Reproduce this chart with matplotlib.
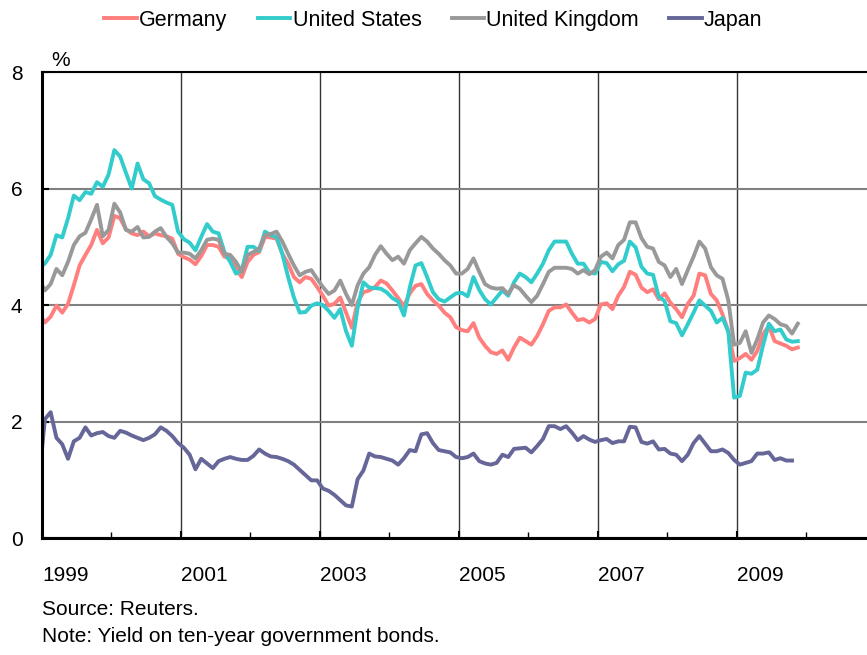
import numpy as np
import matplotlib
matplotlib.use('Agg')
import matplotlib.pyplot as plt

plt.rcParams['font.family'] = ['Liberation Sans', 'DejaVu Sans']

# monthly ten-year yields, Dec 1998 .. Nov 2009 (Japan to Oct 2009), in %
germany = [3.85,
    3.70, 3.80, 3.99, 3.87, 4.02, 4.34, 4.68, 4.86, 5.03, 5.29, 5.06, 5.16,
    5.53, 5.49, 5.30, 5.23, 5.20, 5.26, 5.18, 5.23, 5.20, 5.18, 5.14, 4.88,
    4.82, 4.78, 4.70, 4.84, 5.03, 5.03, 5.00, 4.83, 4.80, 4.62, 4.48, 4.74,
    4.86, 4.91, 5.17, 5.16, 5.14, 4.88, 4.71, 4.48, 4.39, 4.48, 4.45, 4.31,
    4.16, 3.99, 4.02, 4.13, 3.87, 3.61, 4.05, 4.22, 4.25, 4.31, 4.42, 4.37,
    4.25, 4.12, 3.98, 4.20, 4.33, 4.36, 4.19, 4.08, 3.99, 3.87, 3.79, 3.62,
    3.57, 3.55, 3.69, 3.44, 3.30, 3.19, 3.16, 3.22, 3.06, 3.27, 3.44, 3.38,
    3.32, 3.47, 3.67, 3.90, 3.96, 3.96, 4.01, 3.87, 3.74, 3.76, 3.70, 3.76,
    4.01, 4.03, 3.93, 4.16, 4.31, 4.57, 4.52, 4.30, 4.22, 4.27, 4.10, 4.20,
    4.04, 3.93, 3.79, 4.02, 4.16, 4.54, 4.51, 4.19, 4.08, 3.84, 3.55, 3.04,
    3.09, 3.16, 3.06, 3.21, 3.50, 3.64, 3.38, 3.34, 3.30, 3.24, 3.27]

united_states = [4.65,
    4.71, 4.86, 5.20, 5.16, 5.49, 5.88, 5.80, 5.94, 5.91, 6.11, 6.03, 6.24,
    6.66, 6.55, 6.27, 6.00, 6.43, 6.16, 6.09, 5.87, 5.81, 5.76, 5.72, 5.26,
    5.13, 5.07, 4.94, 5.17, 5.39, 5.26, 5.23, 4.91, 4.74, 4.54, 4.60, 5.00,
    5.00, 4.93, 5.26, 5.20, 5.17, 4.88, 4.48, 4.13, 3.87, 3.88, 3.99, 4.03,
    4.00, 3.90, 3.78, 3.93, 3.55, 3.30, 3.95, 4.39, 4.30, 4.29, 4.28, 4.22,
    4.12, 4.06, 3.82, 4.30, 4.68, 4.72, 4.48, 4.22, 4.10, 4.06, 4.13, 4.20,
    4.21, 4.15, 4.48, 4.26, 4.10, 4.01, 4.13, 4.25, 4.16, 4.39, 4.54, 4.48,
    4.39, 4.54, 4.71, 4.94, 5.09, 5.09, 5.09, 4.88, 4.71, 4.71, 4.56, 4.54,
    4.74, 4.72, 4.58, 4.70, 4.76, 5.09, 4.99, 4.66, 4.54, 4.52, 4.14, 4.07,
    3.72, 3.69, 3.48, 3.67, 3.87, 4.08, 3.99, 3.90, 3.70, 3.78, 3.54, 2.41,
    2.44, 2.84, 2.82, 2.89, 3.31, 3.68, 3.55, 3.58, 3.41, 3.37, 3.38]

united_kingdom = [4.45,
    4.25, 4.36, 4.62, 4.51, 4.74, 5.03, 5.18, 5.24, 5.47, 5.72, 5.18, 5.29,
    5.74, 5.59, 5.29, 5.26, 5.34, 5.16, 5.17, 5.26, 5.32, 5.17, 5.06, 4.90,
    4.90, 4.88, 4.80, 4.94, 5.12, 5.14, 5.12, 4.88, 4.86, 4.74, 4.57, 4.86,
    4.91, 4.97, 5.20, 5.22, 5.26, 5.09, 4.88, 4.68, 4.51, 4.57, 4.60, 4.45,
    4.31, 4.19, 4.25, 4.42, 4.19, 4.00, 4.34, 4.54, 4.65, 4.86, 5.01, 4.88,
    4.77, 4.83, 4.71, 4.94, 5.06, 5.17, 5.09, 4.97, 4.88, 4.77, 4.68, 4.54,
    4.54, 4.62, 4.80, 4.57, 4.36, 4.30, 4.28, 4.29, 4.19, 4.34, 4.28, 4.16,
    4.05, 4.16, 4.36, 4.57, 4.64, 4.64, 4.64, 4.62, 4.54, 4.60, 4.53, 4.60,
    4.83, 4.90, 4.80, 5.03, 5.12, 5.42, 5.42, 5.15, 5.00, 4.97, 4.74, 4.68,
    4.48, 4.62, 4.36, 4.60, 4.83, 5.09, 4.97, 4.65, 4.51, 4.45, 4.08, 3.32,
    3.35, 3.55, 3.18, 3.41, 3.70, 3.82, 3.76, 3.67, 3.64, 3.51, 3.68]

japan = [1.00,
    2.04, 2.16, 1.72, 1.61, 1.36, 1.66, 1.72, 1.90, 1.76, 1.80, 1.82, 1.75,
    1.72, 1.84, 1.81, 1.76, 1.72, 1.68, 1.72, 1.78, 1.90, 1.84, 1.75, 1.63,
    1.55, 1.43, 1.18, 1.36, 1.28, 1.20, 1.32, 1.36, 1.39, 1.36, 1.34, 1.34,
    1.41, 1.52, 1.45, 1.40, 1.39, 1.36, 1.32, 1.26, 1.17, 1.08, 0.99, 0.99,
    0.85, 0.81, 0.74, 0.65, 0.56, 0.54, 1.01, 1.16, 1.45, 1.40, 1.39, 1.36,
    1.33, 1.26, 1.37, 1.51, 1.49, 1.78, 1.80, 1.63, 1.51, 1.49, 1.47, 1.39,
    1.37, 1.39, 1.45, 1.32, 1.28, 1.26, 1.29, 1.43, 1.39, 1.53, 1.54, 1.55,
    1.47, 1.58, 1.70, 1.92, 1.92, 1.87, 1.92, 1.81, 1.68, 1.75, 1.69, 1.65,
    1.68, 1.70, 1.63, 1.66, 1.66, 1.91, 1.90, 1.65, 1.62, 1.66, 1.52, 1.53,
    1.45, 1.43, 1.32, 1.43, 1.63, 1.75, 1.62, 1.49, 1.49, 1.52, 1.46, 1.34,
    1.26, 1.29, 1.32, 1.45, 1.45, 1.47, 1.34, 1.37, 1.33, 1.33]

series = [("Germany", germany, '#ff7f7f'),
          ("United States", united_states, '#33cccc'),
          ("United Kingdom", united_kingdom, '#999999'),
          ("Japan", japan, '#666699')]

year_ticks = [1999, 2001, 2003, 2005, 2007, 2009]

fig = plt.figure(figsize=(8.67, 6.55), dpi=100)
ax = fig.add_axes([0.0484, 0.1786, 0.9516, 0.7114])

for name, vals, col in series:
    # mid-month positions starting Dec 1998
    x = 1999 + (np.arange(len(vals)) - 1 + 0.5) / 12.0
    ax.plot(x, vals, color=col, lw=2.8, label=name)

ax.set_xlim(1999, 1999 + 825 / 69.5)
ax.set_ylim(0, 8)
ax.set_yticks([0, 2, 4, 6, 8])
ax.set_xticks(year_ticks)
ax.set_xticklabels([str(y) for y in year_ticks], ha='left')
ax.set_xticks([2000, 2002, 2004, 2006, 2008, 2010], minor=True)

ax.grid(axis='y', color='#808080', lw=1.5)
ax.grid(axis='x', which='major', color='#333333', lw=1.0)
ax.set_axisbelow(True)

ax.tick_params(axis='y', direction='in', length=5, width=1.5, labelsize=15, pad=14)
ax.tick_params(axis='x', which='major', direction='in', length=5, width=1.5,
               labelsize=15, pad=20)
ax.tick_params(axis='x', which='minor', direction='in', length=4, width=1)

for s in ['left', 'bottom']:
    ax.spines[s].set_linewidth(2.2)
ax.spines['top'].set_linewidth(1.5)
ax.spines['right'].set_visible(False)

fig.text(0.059, 0.908, "%", fontsize=15, ha='left', va='center')
fig.text(0.0484, 0.069, "Source: Reuters.", fontsize=15, ha='left', va='center')
fig.text(0.0484, 0.029, "Note: Yield on ten-year government bonds.", fontsize=15,
         ha='left', va='center')

fig.legend(loc='upper center', bbox_to_anchor=(0.5, 1.015), ncol=4, frameon=False,
           fontsize=15.5, handlelength=1.5, handletextpad=0.12, columnspacing=1.4)

fig.savefig("out.png", dpi=100)
